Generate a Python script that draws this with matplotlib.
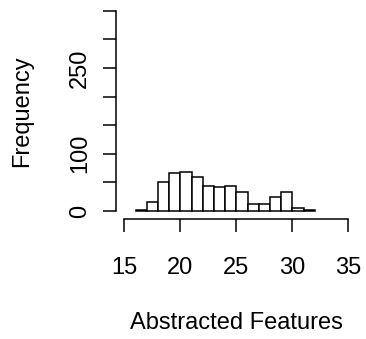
import numpy as np
import matplotlib
matplotlib.use("Agg")
import matplotlib.pyplot as plt

plt.rcParams['font.family'] = ['Liberation Sans', 'DejaVu Sans']

# histogram bins (width 1) and counts
bin_edges = list(range(16, 33))
counts = [2, 16, 50, 66, 68, 59, 44, 42, 44, 33, 12, 13, 24, 33, 5, 1]

x_ticks = [15, 20, 25, 30, 35]
y_ticks = [0, 50, 100, 150, 200, 250, 300, 350]
y_labels = ['0', '', '100', '', '', '250', '', '']

fig = plt.figure(figsize=(3.66, 3.39), dpi=100)
ax = fig.add_axes([0.3156, 0.354, 0.6607, 0.638])

ax.bar(bin_edges[:-1], counts, width=1, align='edge',
       color='white', edgecolor='black', linewidth=1.1)

# R-like axis ranges (4% padding around 15..35 and 0..350)
ax.set_xlim(14.2, 35.8)
ax.set_ylim(-14, 364)

for s in ['top', 'right']:
    ax.spines[s].set_visible(False)
ax.spines['left'].set_bounds(0, 350)
ax.spines['bottom'].set_bounds(15, 35)
ax.spines['left'].set_linewidth(1.1)
ax.spines['bottom'].set_linewidth(1.1)

ax.set_xticks(x_ticks)
ax.set_xticklabels([str(t) for t in x_ticks])
ax.set_yticks(y_ticks)
ax.set_yticklabels(y_labels, rotation=90, va='center')

ax.tick_params(axis='x', length=9.7, width=1.1, pad=18, labelsize=17)
ax.tick_params(axis='y', length=9.7, width=1.1, pad=8, labelsize=17)

ax.set_xlabel('Abstracted Features', fontsize=17, va='center')
ax.xaxis.set_label_coords(0.5, -0.481)
ax.set_ylabel('Frequency', fontsize=17, va='center')
ax.yaxis.set_label_coords(-0.385, 0.5)

fig.savefig('out.png', dpi=100)
